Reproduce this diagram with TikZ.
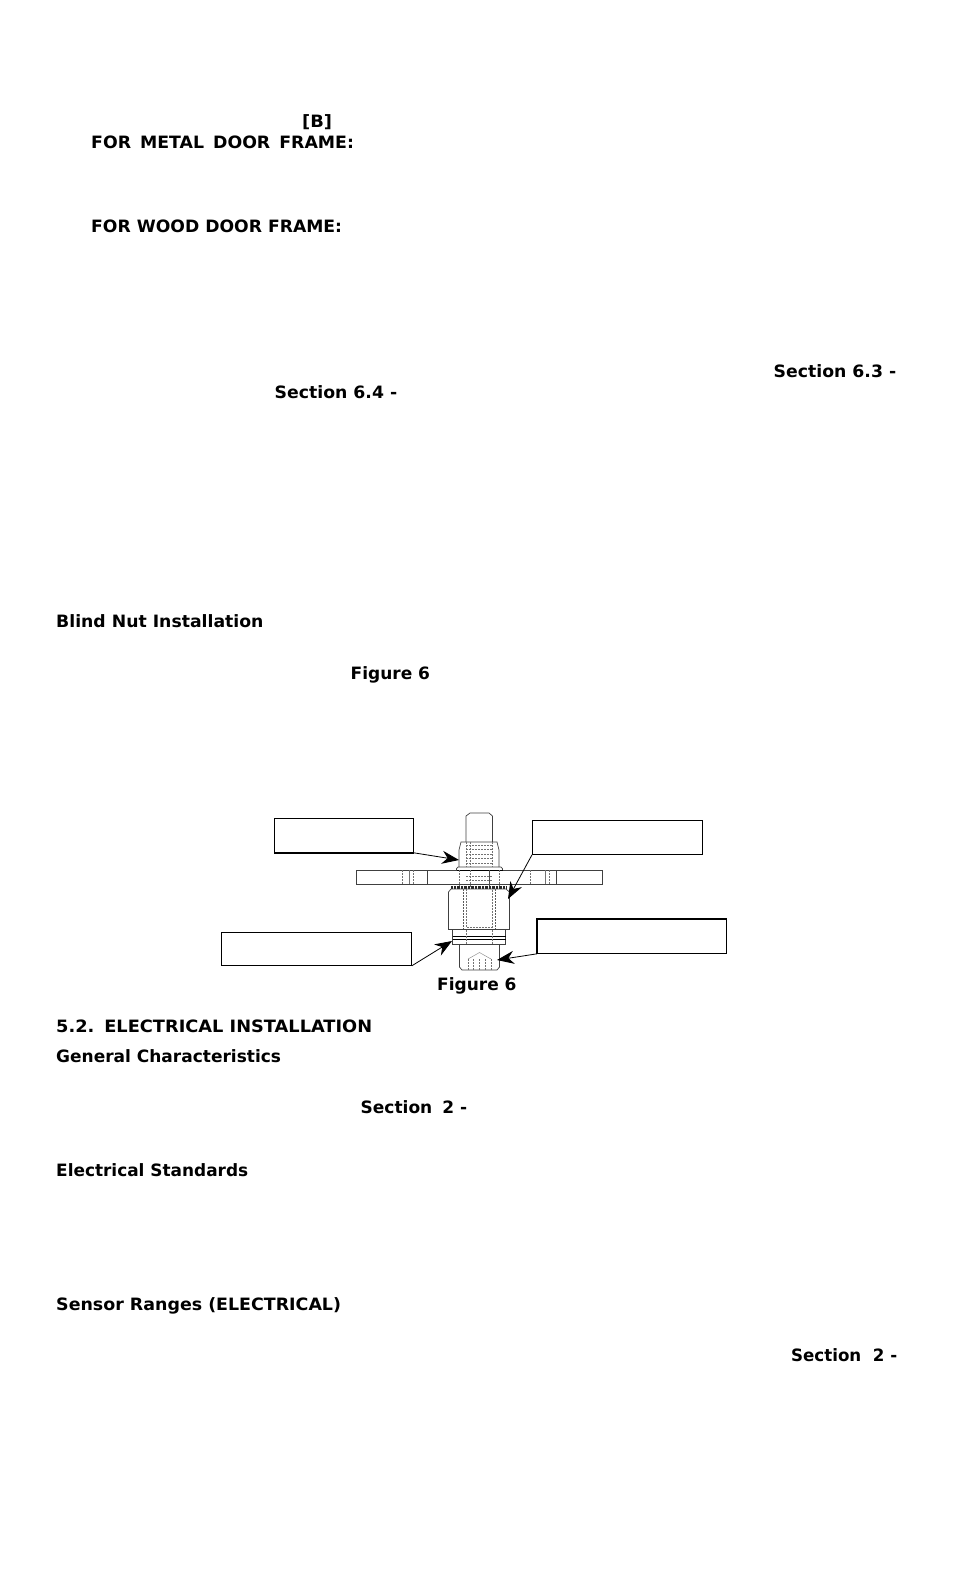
\documentclass[tikz,border=0pt]{standalone}
\usepackage{fontspec}
\setmainfont{DejaVu Sans}
\usetikzlibrary{arrows.meta}
\tikzset{
  txt/.style={anchor=base west,inner sep=0pt,font=\fontsize{17}{20}\selectfont\bfseries},
  lblbox/.style={draw,line width=0.8pt,fill=white,inner sep=0pt,anchor=north west},
  ptr/.style={-{Stealth[length=17pt,width=13pt]},line width=0.8pt},
  part/.style={line width=0.7pt,black!75},
  hid/.style={line width=0.5pt,black!55,dash pattern=on 2pt off 1pt},
  heavy/.style={line width=1.6pt}
}
\newcommand{\gapw}{\hspace{8.8pt}}
\begin{document}
\begin{tikzpicture}[x=1pt,y=-1pt]
  \useasboundingbox (0,0) rectangle (954,1572);

  % Page text
  \node[txt,xscale=1.05] (tb) at (302,127) {[B]};
  \node[txt,xscale=1.02] (tmetal) at (91,148) {FOR\gapw METAL\gapw DOOR\gapw FRAME:};
  \node[txt,xscale=1.012] (twood) at (91,232) {FOR WOOD DOOR FRAME:};
  \node[txt,xscale=1.016] (tsa) at (773.5,377) {Section 6.3 -};
  \node[txt,xscale=1.016] (tsb) at (274.5,398) {Section 6.4 -};
  \node[txt,xscale=1.015] (tblind) at (56,627) {Blind Nut Installation};
  \node[txt] (tfiga) at (350.5,679) {Figure 6};
  \node[txt] (tfigb) at (437,990) {Figure 6};
  \node[txt,xscale=1.045] (telec) at (56,1032) {5.2.\hspace{9.5pt}ELECTRICAL INSTALLATION};
  \node[txt] (tgen) at (56,1062) {General Characteristics};
  \node[txt] (tsc) at (360.5,1113) {Section\hspace{10pt}2 -};
  \node[txt,xscale=0.995] (tstd) at (56,1176) {Electrical Standards};
  \node[txt,xscale=1.025] (tsens) at (56,1310) {Sensor Ranges (ELECTRICAL)};
  \node[txt,xscale=0.98] (tsd) at (791,1361) {Section\ \ 2 -};

  % Plate
  \draw[part] (356,870) rectangle (602,884);
  \draw[part] (427,870) -- (427,884);
  \draw[part] (556,870) -- (556,884);
  \foreach \x in {402,413,530,549}
    \draw[hid] (\x,870) -- (\x,884);
  \foreach \x in {409,545}
    \draw[line width=0.5pt,black!55] (\x,870) -- (\x,884);

  % Stud and top nut
  \draw[part] (466,842) -- (466,816) -- (470,813) -- (489,813) -- (492.5,816) -- (492.5,842);
  \draw[part] (459,867) -- (459,850) -- (461,842) -- (497,842) -- (499,850) -- (499,867);
  \draw[part] (456.5,870) -- (456.5,868.5) -- (458,867) -- (501,867) -- (502.5,868.5) -- (502.5,870);
  \draw[line width=1pt] (456.5,870) -- (502.5,870);
  \foreach \y in {845,849.5,854,858.5,863}
    \draw[hid] (466,\y) -- (492.5,\y);
  \draw[hid] (466,842) -- (466,867) (470,842) -- (470,867) (492.5,842) -- (492.5,867);
  \draw[hid] (459.5,870) -- (459.5,887) (470,870) -- (470,887);
  \draw[hid] (489.5,870) -- (489.5,887) (499.5,870) -- (499.5,887);
  \draw[hid] (466,876) -- (492.5,876) (466,880) -- (492.5,880);
  \draw[line width=0.8pt,black!70] (489.5,870) -- (489.5,887);

  % Knurl
  \draw[line width=3pt,black!85,dash pattern=on 1pt off 0.4pt] (451,887.5) -- (506,887.5);

  % Hex nut
  \draw[part] (451,889) -- (448.5,892) -- (448.5,929.5) -- (509.5,929.5) -- (509.5,892) -- (506,889) -- cycle;
  \draw[line width=0.9pt,black!65,dash pattern=on 2pt off 1pt] (463.5,889) -- (463.5,929.5) (495,889) -- (495,929.5);
  \draw[hid] (466,889) -- (466,927) -- (492,927) -- (492,889);

  % Collar
  \draw[part] (452.5,929.5) rectangle (505.5,944);
  \draw[line width=1.2pt] (452.5,936.7) -- (505.5,936.7);
  \draw[line width=1.2pt] (452.5,939.5) -- (505.5,939.5);
  \draw[hid] (466,929.5) -- (466,944) (492,929.5) -- (492,944);

  % Pin
  \draw[part] (459.5,944) -- (459.5,967) -- (462,970) -- (497,970) -- (499.5,967) -- (499.5,944);
  \draw[line width=0.4pt,black!50] (468,959) -- (479.5,952.5) -- (491,959);
  \foreach \x in {468,473,479,485,491}
    \draw[hid] (\x,959) -- (\x,970);

  % Label boxes
  \node[lblbox,minimum width=139pt,minimum height=34pt] (boxnut) at (274,818) {};
  \node[lblbox,minimum width=170pt,minimum height=34pt] (boxhex) at (532,820) {};
  \node[lblbox,minimum width=190pt,minimum height=33pt] (boxcol) at (221,932) {};
  \node[lblbox,minimum width=189pt,minimum height=34pt] (boxpin) at (537,919) {};
  \draw[heavy] (boxnut.south west) -- (boxnut.south east);
  \draw[heavy] (boxpin.south west) -- (boxpin.north west) -- (boxpin.north east);

  % Pointers
  \coordinate (tipnut) at (459,860);
  \coordinate (tiphex) at (508,899);
  \coordinate (tipcol) at (452,941);
  \coordinate (tippin) at (497,960);
  \draw[ptr] (boxnut.south east) -- (tipnut);
  \draw[ptr] (boxhex.south west) -- (tiphex);
  \draw[ptr] (boxcol.south east) -- (tipcol);
  \draw[ptr] (boxpin.south west) -- (tippin);
\end{tikzpicture}
\end{document}
